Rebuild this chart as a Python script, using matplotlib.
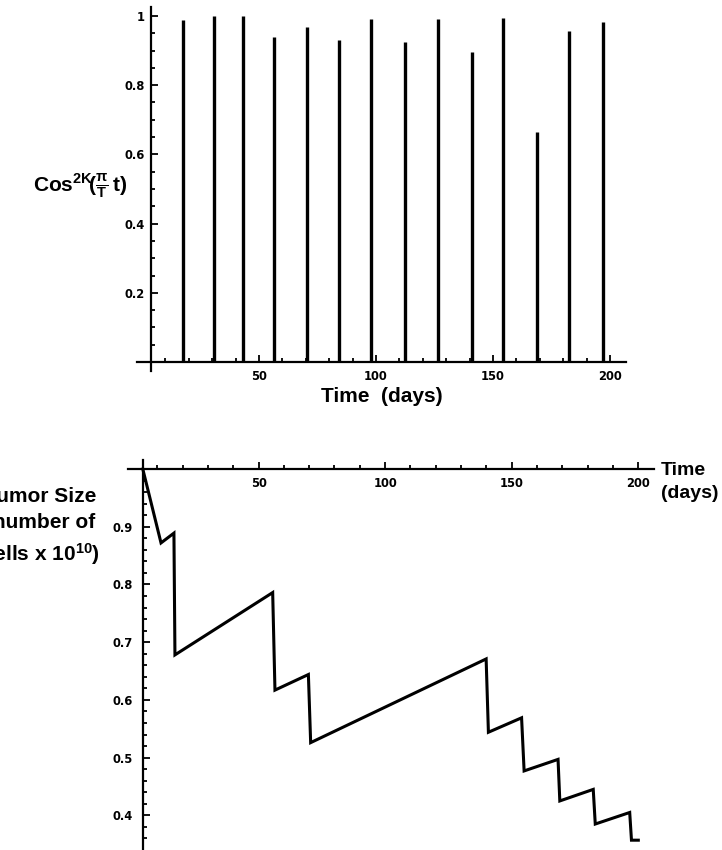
import numpy as np
import matplotlib
matplotlib.use("Agg")
import matplotlib.pyplot as plt
from matplotlib.ticker import FixedLocator, FixedFormatter

# ---------------- data ----------------
# Top panel: peaks of Cos^{2K}(pi t / T)
spike_times = [17.4, 30.8, 43.3, 56.5, 70.4, 84.3, 97.9, 112.4, 126.6,
               140.9, 154.4, 168.7, 182.6, 197.0]
spike_heights = [0.988, 1.0, 1.0, 0.94, 0.967, 0.93, 0.99, 0.925, 0.99,
                 0.895, 0.993, 0.664, 0.957, 0.983]

# Bottom panel: tumour size (number of cells x 10^10)
tumor_t = [4.3, 11.5, 16.6, 17.0, 55.6, 56.5, 69.7, 70.6, 139.9, 140.8,
           153.9, 154.9, 168.3, 169.0, 182.2, 183.0, 196.6, 197.3, 200.0]
tumor_size = [1.0, 0.872, 0.889, 0.678, 0.786, 0.617, 0.644, 0.526, 0.671,
              0.544, 0.569, 0.477, 0.497, 0.425, 0.445, 0.385, 0.405,
              0.357, 0.357]

x_ticks = [50, 100, 150, 200]
x_ticklabels = ["50", "100", "150", "200"]
x_minor = [10, 20, 30, 40, 60, 70, 80, 90, 110, 120, 130, 140,
           160, 170, 180, 190]
top_y_ticks = [0.2, 0.4, 0.6, 0.8, 1.0]
top_y_labels = ["0.2", "0.4", "0.6", "0.8", "1"]
bot_y_ticks = [0.4, 0.5, 0.6, 0.7, 0.8, 0.9]
bot_y_labels = ["0.4", "0.5", "0.6", "0.7", "0.8", "0.9"]

# ---------------- style ----------------
plt.rcParams["font.family"] = ["Liberation Sans", "DejaVu Sans"]
plt.rcParams["mathtext.fontset"] = "custom"
plt.rcParams["mathtext.rm"] = "Liberation Sans:bold"
plt.rcParams["mathtext.it"] = "Liberation Sans:bold"
plt.rcParams["mathtext.bf"] = "Liberation Sans:bold"
plt.rcParams["mathtext.sf"] = "Liberation Sans:bold"

W, H = 722, 850
fig = plt.figure(figsize=(W / 100, H / 100), dpi=100)
fig.patch.set_facecolor("white")

tick_font = dict(family="DejaVu Sans", weight="bold", size=8.3)


def style_axes(ax, yspine_x, xspine_y, ymajor, ylabels, yminor_step, ymin, ymax, ypad):
    for s in ("top", "right"):
        ax.spines[s].set_visible(False)
    ax.spines["left"].set_position(("data", yspine_x))
    ax.spines["bottom"].set_position(("data", xspine_y))
    for s in ("left", "bottom"):
        ax.spines[s].set_linewidth(1.6)
    ax.patch.set_visible(False)
    ax.xaxis.set_major_locator(FixedLocator(x_ticks))
    ax.xaxis.set_major_formatter(FixedFormatter(x_ticklabels))
    ax.xaxis.set_minor_locator(FixedLocator(x_minor))
    ax.yaxis.set_major_locator(FixedLocator(ymajor))
    ax.yaxis.set_major_formatter(FixedFormatter(ylabels))
    yminor = [v for v in np.arange(ymin, ymax + 1e-9, yminor_step)
              if all(abs(v - m) > 1e-6 for m in ymajor)]
    ax.yaxis.set_minor_locator(FixedLocator(yminor))
    ax.tick_params(which="both", direction="in", width=1.3, color="black")
    ax.tick_params(which="major", length=5)
    ax.tick_params(which="minor", length=3)
    ax.tick_params(axis="y", which="major", pad=ypad)
    ax.tick_params(axis="x", which="major", pad=6)
    for lbl in ax.get_xticklabels() + ax.get_yticklabels():
        lbl.set_fontproperties(tick_font)


# ---------------- top panel ----------------
ax1 = fig.add_axes([137.3 / W, 1 - 370.65 / H, 489.1 / W, 363.3 / H])
ax1.set_xlim(-2, 207)
ax1.set_ylim(-0.025, 1.025)
ax1.vlines(spike_times, 0, spike_heights, colors="black", linewidth=2.4)
style_axes(ax1, 3.7, 0.0, top_y_ticks, top_y_labels, 0.05, 0.05, 1.0, 4)

fig.text(382 / W, 1 - 397 / H, "Time  (days)", ha="center", va="center",
         fontsize=15, fontweight="bold")
fig.text(80 / W, 1 - 186 / H,
         r"$\mathrm{Cos}^{2K}\!(\frac{\pi}{T}\,t)$",
         ha="center", va="center", fontsize=15)

# ---------------- bottom panel ----------------
ax2 = fig.add_axes([128.1 / W, 0.0, 525.4 / W, 390.2 / H])
ax2.set_xlim(-1.5, 206)
ax2.set_ylim(0.34, 1.016)
ax2.plot(tumor_t, tumor_size, color="black", linewidth=2.2,
         solid_joinstyle="miter")
style_axes(ax2, 4.27, 1.0, bot_y_ticks, bot_y_labels, 0.02, 0.36, 0.98, 7)

fig.text(41 / W, 1 - 527 / H, "Tumor Size\n(number of\ncells x 10$^{10}$)",
         ha="center", va="center", multialignment="center",
         fontsize=15, fontweight="bold", linespacing=1.45)
fig.text(661 / W, 1 - 482 / H, "Time\n(days)", ha="left", va="center",
         fontsize=14, fontweight="bold", linespacing=1.4)

fig.savefig("out.png", dpi=100, facecolor="white")
